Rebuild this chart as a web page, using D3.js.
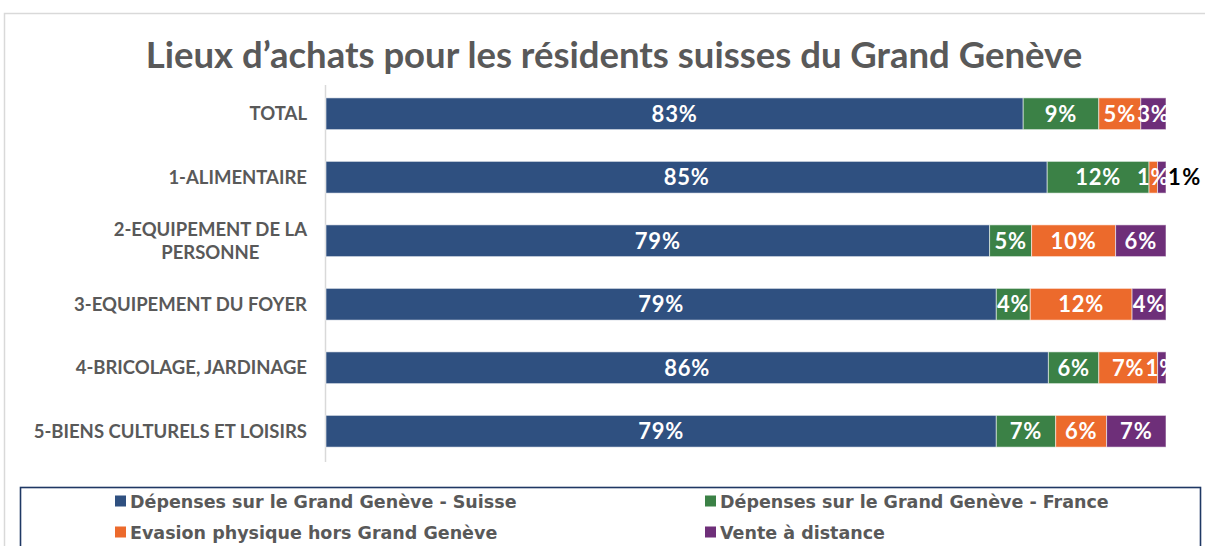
<!DOCTYPE html>
<html>
<head>
<meta charset="utf-8">
<script src="https://cdn.jsdelivr.net/npm/d3@7"></script>
<style>
  html, body { margin: 0; padding: 0; background: #fff; }
  svg { display: block; }
  text { font-family: Lato, "Open Sans", "DejaVu Sans", sans-serif; font-weight: 700; }
  text.legend-label { font-family: "DejaVu Sans", Lato, sans-serif; }
</style>
</head>
<body>
<svg id="chart" width="1205" height="546"></svg>
<script>
// Shopping locations of Swiss residents of Greater Geneva, shares in %
const categories = [
  "TOTAL",
  "1-ALIMENTAIRE",
  "2-EQUIPEMENT DE LA PERSONNE",
  "3-EQUIPEMENT DU FOYER",
  "4-BRICOLAGE, JARDINAGE",
  "5-BIENS CULTURELS ET LOISIRS"
];
// wrapped label lines for the category axis
const categoryLines = [
  ["TOTAL"],
  ["1-ALIMENTAIRE"],
  ["2-EQUIPEMENT DE LA", "PERSONNE"],
  ["3-EQUIPEMENT DU FOYER"],
  ["4-BRICOLAGE, JARDINAGE"],
  ["5-BIENS CULTURELS ET LOISIRS"]
];
const seriesNames = [
  "Dépenses sur le Grand Genève - Suisse",
  "Dépenses sur le Grand Genève - France",
  "Evasion physique hors Grand Genève",
  "Vente à distance"
];
const suisse   = [83, 85, 79, 79, 86, 79];
const france   = [9, 12, 5, 4, 6, 7];
const evasion  = [5, 1, 10, 12, 7, 6];
const distance = [3, 1, 6, 4, 1, 7];
// a data label drawn beside the bar end instead of inside its segment
const outsideLabels = [["1-ALIMENTAIRE", "Vente à distance"]];

const seriesColors = ["#2F5080", "#3B8146", "#EC6A2C", "#6E2F79"];
const titleText = "Lieux d\u2019achats pour les résidents suisses du Grand Genève";

const W = 1205, H = 546;
const svg = d3.select("#chart");

// table for d3.stack
const seriesValues = [suisse, france, evasion, distance];
const rows = categories.map((c, i) => {
  const r = { category: c };
  seriesNames.forEach((s, k) => { r[s] = seriesValues[k][i]; });
  return r;
});
const stacked = d3.stack().keys(seriesNames).offset(d3.stackOffsetExpand)(rows);

// outer frame
svg.append("rect").attr("x", 0).attr("y", 0).attr("width", W).attr("height", H).attr("fill", "#fff");
svg.append("rect")
  .attr("x", 4.5).attr("y", 13.5).attr("width", W + 10).attr("height", H)
  .attr("fill", "none").attr("stroke", "#D9D9D9").attr("stroke-width", 1.5);

// title
svg.append("text")
  .attr("x", 614).attr("y", 68)
  .attr("text-anchor", "middle")
  .attr("font-size", 36.5)
  .attr("fill", "#595959")
  .text(titleText);

// scales
const x = d3.scaleLinear().domain([0, 1]).range([326, 1166]);
const y = d3.scaleBand().domain(categories).range([82, 463]).paddingInner(0.5).paddingOuter(0.25);

// category axis line
svg.append("line")
  .attr("x1", 325.5).attr("x2", 325.5).attr("y1", 85).attr("y2", 462)
  .attr("stroke", "#D9D9D9").attr("stroke-width", 1.5);

// bars
const layers = svg.append("g").selectAll("g.layer")
  .data(stacked).join("g")
  .attr("class", "layer")
  .attr("fill", (d, i) => seriesColors[i]);

layers.selectAll("rect")
  .data(d => d.map(p => ({ p, key: d.key })))
  .join("rect")
  .attr("x", d => x(d.p[0]))
  .attr("y", d => y(d.p.data.category))
  .attr("width", d => x(d.p[1]) - x(d.p[0]))
  .attr("height", y.bandwidth())
  .attr("stroke", "rgba(255,255,255,0.55)")
  .attr("stroke-width", 1);

// data labels, clipped to the plot area
svg.append("clipPath").attr("id", "plotClip")
  .append("rect").attr("x", x(0)).attr("y", 0).attr("width", x(1) - x(0)).attr("height", H);

const isOutside = (cat, key) => outsideLabels.some(o => o[0] === cat && o[1] === key);
const labelData = [];
stacked.forEach(layer => {
  layer.forEach(p => {
    labelData.push({
      key: layer.key,
      category: p.data.category,
      value: p.data[layer.key],
      x0: x(p[0]), x1: x(p[1])
    });
  });
});

svg.append("g").attr("clip-path", "url(#plotClip)")
  .selectAll("text")
  .data(labelData.filter(d => !isOutside(d.category, d.key)))
  .join("text")
  .attr("x", d => (d.x0 + d.x1) / 2)
  .attr("y", d => y(d.category) + y.bandwidth() / 2 + 8)
  .attr("text-anchor", "middle")
  .attr("font-size", 22)
  .attr("letter-spacing", 0.8)
  .attr("fill", "#fff")
  .text(d => d.value + "%");

svg.append("g")
  .selectAll("text")
  .data(labelData.filter(d => isOutside(d.category, d.key)))
  .join("text")
  .attr("x", d => d.x1 + 2)
  .attr("y", d => y(d.category) + y.bandwidth() / 2 + 8)
  .attr("text-anchor", "start")
  .attr("font-size", 22)
  .attr("letter-spacing", 1.5)
  .attr("fill", "#000")
  .text(d => d.value + "%");

// category labels: right-aligned block, lines centred on each other
const catG = svg.append("g");
categories.forEach((c, i) => {
  const lines = categoryLines[i];
  const g = catG.append("g");
  const cy = y(c) + y.bandwidth() / 2;
  const lh = 23;
  const texts = lines.map((ln, j) => g.append("text")
    .attr("y", cy + (j - (lines.length - 1) / 2) * lh + 6.5)
    .attr("font-size", 18.5)
    .attr("fill", "#595959")
    .attr("text-anchor", "middle")
    .text(ln));
  const maxW = d3.max(texts, t => t.node().getComputedTextLength());
  texts.forEach(t => t.attr("x", 307 - maxW / 2));
});

// legend
svg.append("rect")
  .attr("x", 20.5).attr("y", 487.5).attr("width", 1180).attr("height", 80)
  .attr("fill", "#fff").attr("stroke", "#1F3864").attr("stroke-width", 1.6);

const legendCols = [115, 705];
const legendRows = [501, 532];
const legend = svg.append("g").selectAll("g")
  .data(seriesNames).join("g")
  .attr("transform", (d, i) => `translate(${legendCols[i % 2]},${legendRows[Math.floor(i / 2)]})`);
legend.append("rect")
  .attr("x", 0).attr("y", -5.5).attr("width", 11).attr("height", 11)
  .attr("fill", (d, i) => seriesColors[i]);
legend.append("text")
  .attr("class", "legend-label")
  .attr("x", 15).attr("y", 6.5)
  .attr("font-size", 17.5)
  .attr("fill", "#595959")
  .text(d => d);
</script>
</body>
</html>
